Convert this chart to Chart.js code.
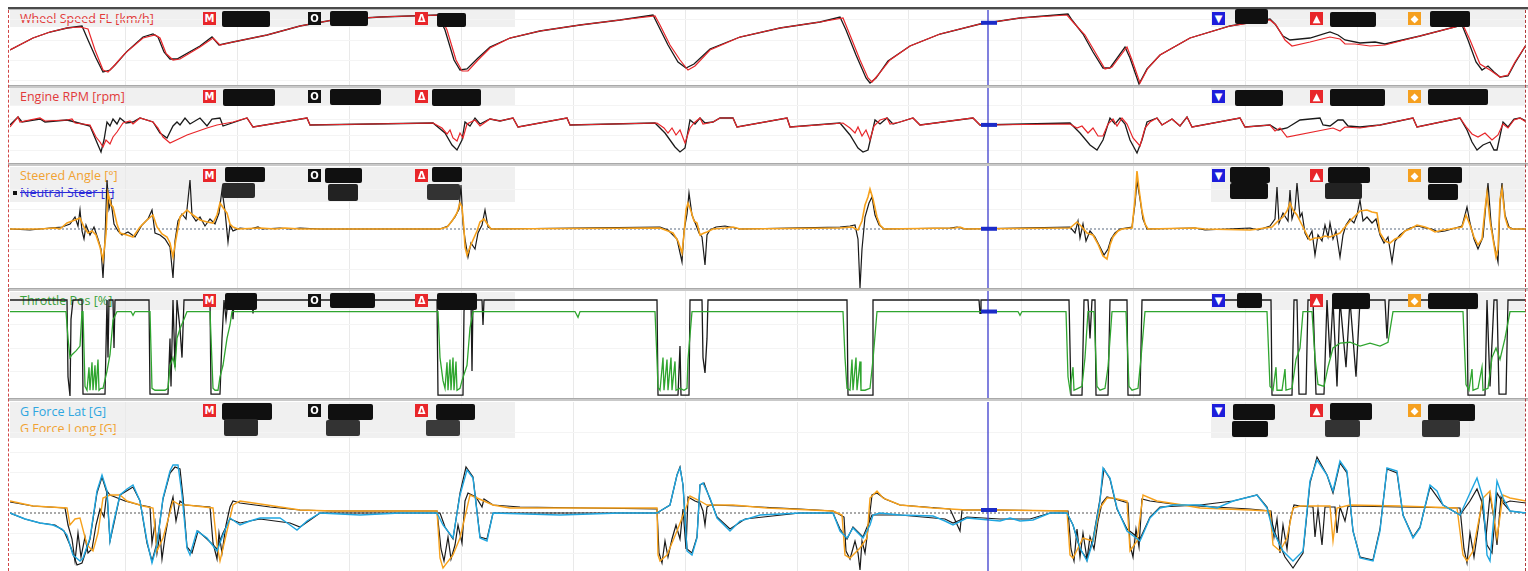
<!DOCTYPE html>
<html>
<head>
<meta charset="utf-8">
<script src="https://cdn.jsdelivr.net/npm/chart.js@4.4.1/dist/chart.umd.min.js"></script>
<style>
body{margin:0;background:#fff;width:1528px;height:571px;overflow:hidden;position:relative;font-family:'Open Sans',sans-serif;}
canvas{position:absolute;left:10px;}
.strip{position:absolute;background:#f0f0f0;}
.lbl{position:absolute;font-size:12.5px;line-height:17px;white-space:nowrap;}
.ico{position:absolute;width:13px;height:13px;color:#fff;font-size:10px;line-height:13px;text-align:center;font-weight:bold;font-family:'DejaVu Sans',sans-serif;}
.red{background:#e8262a}.blk{background:#111}.blu{background:#1d1ddb}.org{background:#f5a020}
.redact{position:absolute;background:#101010;}
.sep{position:absolute;left:8px;width:1520px;height:3px;background:#c9c9c9;border-top:1px solid #a9a9a9;box-sizing:border-box;}
</style>
</head>
<body>
<script>
/* =========================
   DATA  [distance, value]
========================= */
const gridDist = [125,237,349,461,573,685,797,909,1021,1133,1245,1357,1469];
const cursorDist = 988;

// Wheel Speed FL [km/h]
const wheelSpeedCur = [[10,150],[33,186],[50,204],[67,216],[80,219],[88,213],[95,150],[103,90],[108,84],[113,99],[125,140],[143,186],[155,195],[160,186],[166,140],[173,120],[180,123],[200,159],[213,186],[220,165],[233,174],[267,195],[300,222],[333,240],[380,249],[440,255],[447,210],[456,120],[462,87],[468,87],[478,120],[490,156],[510,186],[540,207],[580,225],[620,240],[655,252],[660,225],[670,165],[680,120],[688,90],[695,102],[710,150],[740,189],[780,216],[820,234],[843,246],[850,195],[860,120],[868,66],[872,54],[878,75],[890,120],[910,162],[940,198],[980,228],[1020,246],[1067,255],[1073,234],[1085,195],[1095,144],[1105,93],[1112,99],[1127,159],[1132,120],[1140,51],[1148,96],[1160,135],[1190,186],[1230,222],[1270,240],[1276,225],[1285,180],[1292,162],[1310,174],[1330,189],[1340,183],[1345,168],[1355,168],[1370,162],[1385,165],[1420,192],[1463,225],[1470,180],[1480,108],[1490,90],[1500,69],[1508,75],[1515,114],[1526,165]];
const wheelSpeedRef = [[10,150],[33,186],[50,204],[67,216],[82,222],[88,180],[96,126],[103,84],[110,90],[115,105],[127,146],[143,189],[153,198],[158,189],[164,144],[170,123],[177,123],[200,162],[212,189],[219,165],[233,174],[267,195],[300,222],[333,240],[380,249],[438,255],[445,210],[454,120],[460,90],[467,93],[478,126],[490,159],[510,186],[540,207],[580,225],[620,240],[653,255],[658,225],[668,165],[678,114],[686,96],[694,108],[710,153],[740,189],[780,216],[820,234],[840,249],[846,210],[856,135],[866,66],[870,51],[876,66],[888,117],[910,162],[940,198],[980,228],[1020,246],[1068,258],[1072,240],[1083,198],[1093,144],[1103,96],[1110,96],[1125,159],[1130,126],[1139,48],[1147,93],[1160,135],[1190,186],[1230,222],[1270,243],[1275,228],[1283,192],[1290,180],[1310,186],[1330,204],[1338,195],[1345,180],[1360,171],[1375,174],[1385,168],[1420,192],[1462,225],[1468,180],[1476,114],[1482,90],[1488,102],[1494,84],[1500,69],[1508,72],[1515,111],[1526,165]];

// Engine RPM [rpm]
const rpmCur = [[10,7300],[18,8300],[20,7800],[40,8200],[45,7900],[67,8000],[72,8100],[75,7700],[90,7500],[96,6300],[100,5800],[103,5300],[106,6000],[110,5600],[113,6300],[117,6800],[123,7700],[130,7900],[133,7600],[140,8200],[153,7800],[158,7200],[163,6300],[170,5700],[187,6500],[207,7200],[217,7500],[233,7800],[247,8200],[253,7300],[307,8200],[310,7500],[433,7700],[442,7200],[447,6600],[450,7000],[453,6200],[457,5900],[460,6700],[463,6200],[467,7600],[475,8000],[480,7400],[490,8100],[500,7900],[513,8200],[518,7300],[567,8200],[570,7500],[657,7700],[664,7200],[668,6700],[672,7200],[676,6500],[680,7000],[685,5700],[690,7200],[694,7700],[700,8200],[703,7600],[713,7800],[720,8200],[733,8200],[737,7300],[787,8200],[790,7300],[843,7700],[850,7200],[855,6700],[858,7300],[862,6400],[866,7000],[870,6000],[874,7400],[880,8000],[887,8200],[890,7600],[900,7800],[913,8200],[920,7500],[973,8200],[980,7500],[1070,7600],[1077,7200],[1082,7400],[1088,6700],[1093,7200],[1098,6400],[1103,6400],[1108,7600],[1113,8100],[1117,7400],[1122,8200],[1127,7600],[1133,6200],[1140,5400],[1145,7200],[1150,7800],[1157,8200],[1162,7500],[1172,8100],[1180,7400],[1187,8300],[1192,7300],[1240,8200],[1245,7300],[1270,7500],[1275,6900],[1280,7200],[1287,6300],[1333,7200],[1340,6900],[1345,7300],[1360,7200],[1380,7500],[1413,8200],[1417,7300],[1460,8200],[1467,7200],[1472,6600],[1478,6300],[1485,6700],[1492,6000],[1498,6500],[1503,7600],[1508,7200],[1514,8000],[1520,8200],[1526,7800]];
const rpmRef = [[10,7500],[18,8300],[22,7800],[40,8100],[45,7800],[67,8000],[75,7800],[90,7400],[98,5500],[101,4800],[104,6000],[107,7800],[110,7400],[113,8100],[117,7600],[120,8200],[126,7700],[133,7800],[140,8200],[153,7800],[160,6700],[167,6200],[173,7400],[177,7800],[180,7500],[185,8200],[190,7600],[200,8200],[207,7400],[212,8100],[220,8200],[223,7400],[247,8200],[253,7300],[307,8200],[310,7500],[433,7700],[445,6700],[452,5500],[457,5000],[462,6000],[465,7800],[470,7400],[475,8200],[480,7600],[490,8100],[500,7900],[513,8200],[518,7300],[567,8200],[570,7500],[655,7700],[665,6700],[675,5300],[680,4800],[685,5200],[690,8000],[695,7600],[700,8200],[705,7700],[713,7800],[720,8200],[733,8200],[737,7300],[787,8200],[790,7300],[840,7700],[850,6500],[858,5200],[863,4800],[868,5000],[875,8000],[880,7600],[887,8200],[893,7600],[900,7800],[913,8200],[920,7500],[973,8200],[980,7500],[1070,7700],[1080,6700],[1090,5500],[1097,5000],[1103,6000],[1110,8200],[1115,7600],[1120,8200],[1125,7600],[1130,6000],[1137,4700],[1142,6000],[1147,7800],[1157,8200],[1162,7500],[1172,8100],[1180,7400],[1187,8300],[1192,7300],[1240,8200],[1245,7300],[1270,7500],[1278,7000],[1287,7200],[1300,8000],[1320,8200],[1323,7500],[1330,7400],[1338,8000],[1343,8000],[1348,7400],[1360,7300],[1380,7500],[1413,8200],[1417,7300],[1460,8200],[1467,7000],[1472,5800],[1477,5000],[1483,5500],[1490,5800],[1494,5000],[1497,5000],[1503,7800],[1508,7300],[1514,8100],[1520,8200],[1526,7900]];

// Steered Angle [deg]
const steerCur = [[10,0],[40,0],[55,1],[60,0],[67,6],[75,9],[80,11],[84,2],[88,-4],[92,-2],[96,-6],[100,-18],[103,-31],[106,-5],[108,36],[111,24],[113,22],[117,5],[120,-4],[127,-6],[133,-8],[140,2],[147,9],[153,14],[157,2],[162,-5],[167,-8],[170,-14],[173,-28],[176,-10],[180,12],[187,19],[193,14],[200,9],[207,7],[213,6],[217,14],[220,26],[224,20],[227,16],[230,5],[233,2],[238,0],[260,1],[275,0],[285,1],[300,0],[440,0],[447,2],[452,8],[457,16],[460,26],[462,22],[464,0],[465,-18],[467,-26],[470,-18],[473,-11],[477,-2],[480,7],[484,10],[488,4],[491,0],[660,1],[668,-2],[673,-4],[678,-12],[682,-24],[684,-5],[686,19],[688,26],[691,18],[694,8],[697,6],[700,-6],[704,-4],[707,-3],[713,0],[725,1],[733,2],[740,0],[840,1],[852,2],[858,-1],[862,8],[865,24],[868,32],[870,40],[873,30],[877,12],[880,4],[884,0],[955,1],[960,2],[965,0],[1070,1],[1077,7],[1082,2],[1087,-4],[1093,-6],[1098,-15],[1103,-27],[1107,-30],[1110,-16],[1113,-8],[1118,-2],[1122,0],[1132,1],[1135,30],[1137,58],[1139,40],[1142,18],[1145,5],[1148,0],[1195,1],[1205,0],[1250,-1],[1258,0],[1272,2],[1278,8],[1283,12],[1287,18],[1290,26],[1293,19],[1297,14],[1300,8],[1303,2],[1307,-6],[1310,-11],[1315,-9],[1320,-9],[1325,-7],[1330,-8],[1335,-6],[1340,-4],[1345,2],[1350,8],[1355,13],[1360,18],[1367,19],[1372,17],[1377,16],[1380,-4],[1385,-12],[1390,-14],[1395,-10],[1400,-8],[1405,-2],[1410,0],[1417,4],[1425,2],[1430,0],[1435,-3],[1443,-1],[1450,0],[1462,2],[1466,14],[1470,4],[1474,-8],[1478,-16],[1482,-10],[1485,20],[1487,36],[1490,8],[1493,-10],[1496,-28],[1498,-20],[1500,30],[1502,40],[1505,12],[1508,2],[1512,0],[1526,0]];
const steerRef = [[10,0],[30,-1],[50,1],[62,2],[70,5],[75,12],[78,3],[80,19],[82,-2],[84,-10],[86,4],[90,-6],[94,2],[98,-10],[101,-20],[103,-49],[105,-10],[107,49],[109,20],[111,28],[114,5],[118,-2],[122,-6],[128,-3],[135,-8],[142,4],[148,10],[152,19],[155,-4],[160,-6],[165,-10],[170,-18],[173,-49],[175,-12],[178,8],[182,15],[186,10],[190,49],[192,14],[196,8],[200,12],[205,3],[210,10],[215,5],[219,16],[222,39],[225,18],[228,-13],[230,4],[233,-2],[240,1],[250,0],[258,2],[262,0],[280,1],[290,0],[300,1],[320,0],[440,0],[448,3],[455,12],[459,20],[461,44],[463,5],[465,-10],[468,-28],[471,-14],[475,-20],[478,-4],[482,4],[485,19],[488,2],[492,0],[660,2],[668,-1],[673,-6],[677,-10],[682,-33],[684,-2],[687,15],[689,36],[692,14],[696,4],[699,-4],[702,-8],[705,-36],[707,-6],[710,-1],[716,2],[725,3],[735,1],[740,0],[840,2],[850,3],[855,4],[858,-10],[860,-59],[862,-20],[865,12],[869,26],[872,32],[875,14],[879,4],[884,0],[950,1],[957,2],[965,0],[1070,2],[1075,-4],[1078,8],[1080,-9],[1083,5],[1086,-12],[1090,-2],[1095,-8],[1100,-18],[1104,-26],[1108,-20],[1111,-10],[1115,-4],[1120,0],[1132,2],[1135,25],[1137,48],[1140,30],[1143,10],[1147,0],[1195,1],[1205,-1],[1250,1],[1258,-1],[1270,3],[1275,10],[1277,42],[1279,6],[1283,16],[1288,8],[1290,39],[1292,10],[1295,20],[1297,46],[1300,12],[1302,16],[1305,-4],[1308,-10],[1312,-2],[1315,-26],[1318,-6],[1322,-12],[1325,4],[1328,-8],[1330,6],[1333,-10],[1336,-2],[1340,-28],[1343,-6],[1346,4],[1350,10],[1354,6],[1357,14],[1360,29],[1363,8],[1367,12],[1372,6],[1376,10],[1380,-6],[1384,-14],[1388,-8],[1392,-33],[1395,-12],[1400,-6],[1405,-2],[1410,1],[1418,3],[1425,1],[1432,0],[1438,-3],[1445,-2],[1452,0],[1462,3],[1465,14],[1467,22],[1470,6],[1474,-10],[1478,-20],[1483,-8],[1486,26],[1488,46],[1491,6],[1494,-14],[1498,-33],[1500,25],[1502,46],[1505,14],[1509,2],[1513,0],[1526,0]];
const steerZero = [[10,0],[1526,0]];

// Throttle Pos [%]
const throttleCur = [[10,88],[66,88],[68,60],[70,40],[72,43],[76,47],[80,52],[82,88],[83,88],[85,10],[87,6],[89,30],[90,6],[92,35],[93,6],[95,32],[96,6],[98,38],[99,6],[101,8],[103,8],[107,26],[110,43],[113,79],[117,88],[131,88],[133,84],[135,88],[150,88],[152,8],[155,6],[160,6],[165,6],[168,8],[170,32],[173,40],[175,30],[177,60],[180,70],[184,80],[187,88],[210,88],[213,8],[215,6],[218,6],[220,20],[223,32],[227,60],[230,74],[232,88],[438,88],[440,40],[443,16],[445,8],[447,35],[448,6],[450,38],[451,6],[453,40],[454,6],[456,36],[457,6],[460,8],[462,16],[467,32],[470,71],[473,88],[575,88],[578,82],[580,88],[655,88],[657,38],[658,9],[660,6],[663,40],[664,6],[667,38],[668,6],[671,40],[672,6],[675,36],[676,6],[680,8],[684,6],[687,8],[688,38],[692,88],[843,88],[845,40],[847,8],[850,6],[852,38],[853,6],[856,40],[857,6],[860,36],[861,6],[865,6],[870,8],[873,38],[877,88],[1018,88],[1020,84],[1022,88],[1066,88],[1068,20],[1070,6],[1073,30],[1074,6],[1078,8],[1082,10],[1085,40],[1088,88],[1094,88],[1097,10],[1100,6],[1105,8],[1108,30],[1112,88],[1126,88],[1129,10],[1132,6],[1138,8],[1141,40],[1145,88],[1267,88],[1270,10],[1273,6],[1276,30],[1277,6],[1282,6],[1285,28],[1286,6],[1292,8],[1296,38],[1300,50],[1303,88],[1312,88],[1315,40],[1318,12],[1324,10],[1328,30],[1333,50],[1340,55],[1350,56],[1360,52],[1370,55],[1380,52],[1388,56],[1393,88],[1463,88],[1466,12],[1469,6],[1472,28],[1473,6],[1478,8],[1482,30],[1483,6],[1488,8],[1492,40],[1496,50],[1500,38],[1505,60],[1510,88],[1526,88]];
const throttleRef = [[10,100],[67,100],[68,20],[70,0],[71,80],[73,100],[82,100],[83,2],[105,2],[107,100],[108,40],[109,100],[113,100],[114,50],[115,100],[149,100],[150,2],[168,2],[170,60],[171,10],[173,100],[175,30],[177,100],[180,70],[182,40],[184,100],[210,100],[211,2],[220,2],[222,60],[224,100],[226,80],[228,100],[232,100],[233,80],[234,100],[252,100],[253,86],[254,100],[437,100],[438,1],[463,1],[464,88],[465,100],[471,100],[472,26],[473,100],[482,100],[483,74],[484,100],[657,100],[658,1],[678,1],[680,52],[681,1],[689,1],[690,100],[702,100],[703,40],[705,24],[707,60],[708,100],[847,100],[848,1],[872,1],[873,100],[979,100],[980,86],[981,100],[1069,100],[1071,1],[1082,1],[1084,100],[1088,100],[1090,60],[1092,100],[1095,100],[1096,1],[1108,1],[1110,100],[1127,100],[1128,1],[1140,1],[1142,100],[1271,100],[1272,1],[1292,1],[1294,100],[1297,100],[1299,2],[1306,2],[1308,100],[1313,100],[1316,2],[1324,2],[1327,100],[1330,40],[1333,100],[1337,10],[1340,100],[1346,30],[1350,100],[1356,20],[1360,100],[1385,100],[1387,60],[1389,100],[1467,100],[1468,1],[1485,1],[1487,100],[1490,10],[1494,100],[1497,100],[1499,2],[1506,2],[1508,100],[1526,100]];

// G Force Lat / Long [G]
const gLatCur = [[10,0],[25,-0.3],[40,-0.5],[53,-0.6],[62,-0.8],[67,-1.1],[73,-2.1],[80,-2.4],[83,-2.25],[90,-1.25],[97,1.1],[102,1.9],[107,1.1],[110,-1.4],[113,-0.6],[120,0.9],[127,1.2],[133,1.4],[140,0.6],[147,-1.4],[152,-2.5],[157,-1.6],[163,0.75],[170,2.1],[173,2.4],[178,2.4],[182,0.9],[187,-1.75],[190,-2.1],[197,-0.9],[207,-1.25],[217,-1.9],[223,-1.1],[230,-0.25],[240,-0.6],[250,-0.4],[260,-0.25],[280,-0.25],[290,-0.6],[297,-0.85],[307,-0.4],[320,0],[360,-0.1],[400,0],[437,0],[443,-0.6],[453,-1.25],[460,0.9],[467,2.15],[473,1.75],[480,-1.25],[487,-1.4],[493,0],[560,-0.1],[620,0],[657,0],[660,0.1],[670,0.4],[677,1.9],[680,2.25],[683,1.4],[687,-1.9],[692,-2.1],[697,-1.25],[700,1.4],[703,1.5],[710,0.75],[717,-0.25],[730,-0.9],[740,-0.4],[760,-0.1],[800,0],[833,0],[840,-0.9],[847,-1.25],[853,-0.75],[863,-1.25],[870,-0.6],[873,-0.1],[880,0],[900,-0.1],[933,-0.15],[945,-0.4],[953,-0.6],[967,-0.25],[1000,-0.4],[1010,-0.25],[1020,-0.4],[1033,-0.35],[1050,0],[1067,0],[1073,-0.6],[1080,-1.75],[1087,-2.4],[1093,-1.4],[1100,0.6],[1103,2.25],[1110,1.75],[1117,0.25],[1127,-0.9],[1140,-1.4],[1150,-0.25],[1160,0.25],[1173,0.4],[1200,0.4],[1217,0.25],[1233,0.6],[1257,0.9],[1267,0.25],[1273,-0.9],[1283,-1.9],[1293,-2.4],[1303,-1.9],[1310,1.6],[1317,2.65],[1327,1.9],[1333,1.1],[1340,2.6],[1347,2.1],[1353,-0.9],[1360,-2.25],[1373,-2.4],[1380,-0.9],[1387,2.25],[1397,2.1],[1403,-0.1],[1413,-1.25],[1420,-0.75],[1430,1.4],[1437,1.1],[1443,0.4],[1460,-0.1],[1470,1.0],[1477,1.75],[1483,0.75],[1487,-2.1],[1490,-2.4],[1497,1.6],[1503,0.75],[1510,0.1],[1526,0]];
const gLatRef = [[10,0],[25,-0.3],[40,-0.5],[55,-0.6],[64,-0.9],[70,-1.6],[77,-2.6],[82,-2.5],[90,-1.3],[97,1.0],[102,1.8],[107,1.0],[110,-1.4],[114,-0.5],[120,0.9],[133,1.3],[140,0.6],[147,-1.5],[152,-2.4],[157,-1.5],[163,0.7],[170,2.0],[175,2.3],[180,2.2],[183,0.8],[187,-1.7],[192,-2.0],[198,-0.9],[207,-1.3],[217,-1.8],[223,-1.0],[230,-0.3],[240,-0.5],[260,-0.3],[290,-0.5],[300,-0.7],[320,0],[440,0],[445,-0.7],[453,-1.3],[460,1.0],[466,2.3],[473,1.8],[480,-1.2],[487,-1.3],[493,0],[657,0],[670,0.4],[677,1.9],[680,2.3],[683,1.4],[687,-1.8],[692,-2.0],[697,-1.2],[700,1.4],[704,1.5],[710,0.7],[717,-0.2],[730,-0.8],[745,-0.3],[800,0],[833,0],[840,-0.8],[847,-1.3],[853,-0.7],[863,-1.2],[872,-0.1],[900,-0.1],[945,-0.3],[953,-0.5],[967,-0.2],[1000,-0.3],[1030,-0.3],[1050,0],[1067,0],[1073,-0.6],[1080,-1.8],[1087,-2.3],[1093,-1.3],[1100,0.7],[1104,2.2],[1110,1.7],[1117,0.2],[1127,-0.8],[1140,-1.3],[1150,-0.2],[1160,0.3],[1200,0.4],[1233,0.6],[1257,0.9],[1267,0.3],[1275,-1.0],[1285,-2.2],[1293,-2.75],[1303,-2.0],[1310,1.5],[1317,2.8],[1327,1.9],[1333,1.0],[1340,2.5],[1347,2.0],[1353,-0.9],[1360,-2.2],[1373,-2.35],[1380,-0.8],[1387,2.2],[1397,2.0],[1403,-0.1],[1413,-1.2],[1420,-0.7],[1430,1.3],[1443,0.4],[1460,-0.1],[1470,0.6],[1477,1.2],[1483,0.4],[1487,-1.6],[1492,-2.0],[1497,1.0],[1503,0.5],[1510,0.1],[1526,0]];
const gLongCur = [[10,0.6],[33,0.35],[67,0.25],[70,-0.6],[75,-0.3],[80,-0.25],[87,-1.6],[93,-1.9],[98,-1.0],[103,0.75],[110,0.9],[120,0.9],[127,0.6],[143,0.35],[153,0.25],[157,-1.9],[163,-1.25],[173,0.6],[180,0.4],[187,0.4],[213,0.25],[217,-1.6],[220,-2.4],[227,-0.9],[233,0.4],[240,0.6],[267,0.4],[300,0.15],[333,0.1],[437,0.1],[440,-2.25],[443,-2.75],[453,-2.1],[460,-1.25],[467,0.25],[470,0.9],[477,0.75],[493,0.4],[510,0.25],[560,0.25],[657,0.25],[658,-2.1],[660,-2.4],[667,-2.1],[677,-0.9],[687,0.4],[690,0.85],[700,0.6],[707,0.4],[733,0.4],[767,0.25],[833,0.1],[842,-0.1],[845,-2.1],[850,-2.25],[860,-1.75],[867,-1.25],[870,0.75],[877,1.1],[883,0.75],[900,0.4],[933,0.25],[967,0.15],[1000,0.15],[1067,0.1],[1070,-2.1],[1073,-2.25],[1083,-1.25],[1093,-1.4],[1100,0.25],[1107,0.75],[1113,0.75],[1127,0.6],[1130,-1.9],[1137,-1.4],[1143,0.9],[1157,0.6],[1183,0.4],[1200,0.25],[1250,0.15],[1270,0.1],[1273,-1.6],[1280,-1.9],[1287,-1.25],[1293,0.25],[1300,0.35],[1330,0.35],[1333,-1.4],[1337,0.25],[1350,0.4],[1400,0.35],[1457,0.25],[1463,-2.1],[1467,-2.4],[1473,-1.9],[1483,0.75],[1490,1.1],[1497,-1.25],[1503,0.9],[1510,0.75],[1526,0.6]];
const gLongRef = [[10,0.55],[33,0.35],[65,0.25],[68,-0.6],[72,-1.3],[75,-2.4],[78,-1.0],[81,-2.2],[85,-1.2],[88,-2.0],[92,-1.8],[96,-0.6],[100,0.2],[104,-0.2],[107,1.1],[110,0.9],[115,0.8],[125,0.6],[140,0.4],[150,0.3],[152,-1.5],[155,-0.5],[157,-2.0],[160,-1.0],[162,-2.3],[165,-1.2],[170,0.2],[173,0.8],[176,-0.4],[180,0.6],[185,0.4],[210,0.3],[213,-1.5],[217,-2.3],[219,-1.0],[222,-2.0],[226,-0.6],[230,0.3],[233,0.6],[240,0.5],[270,0.3],[300,0.15],[333,0.1],[437,0.1],[441,-1.8],[444,-2.4],[448,-1.2],[451,-2.3],[455,-1.6],[458,-0.6],[462,-1.5],[465,0.6],[468,1.0],[476,0.8],[482,0.3],[484,0.7],[493,0.4],[520,0.3],[657,0.2],[659,-2.0],[662,-2.5],[665,-1.4],[668,-2.2],[672,-1.3],[676,-0.6],[680,-1.3],[683,0.2],[686,-1.8],[688,0.8],[695,0.6],[700,0.5],[703,0.1],[705,-0.6],[707,0.3],[710,0.4],[740,0.35],[800,0.2],[833,0.1],[844,-0.2],[846,-1.9],[850,-2.3],[855,-1.4],[858,-2.0],[860,-2.85],[862,-1.4],[865,-2.0],[868,-0.8],[872,0.9],[877,1.0],[885,0.7],[900,0.4],[950,0.2],[960,-0.9],[962,0.15],[1000,0.15],[1068,0.1],[1071,-1.8],[1074,-2.4],[1077,-0.8],[1080,-2.2],[1083,-1.0],[1087,-2.3],[1090,-1.2],[1094,-1.8],[1098,-0.4],[1102,0.5],[1107,0.8],[1115,0.7],[1128,0.5],[1130,-1.6],[1133,-2.2],[1136,-0.8],[1139,-1.7],[1142,0.7],[1150,0.6],[1180,0.4],[1250,0.2],[1271,0.1],[1274,-1.2],[1277,-0.3],[1280,-2.0],[1283,-0.6],[1287,-1.8],[1290,-0.4],[1294,0.4],[1300,0.35],[1313,0.3],[1315,-1.2],[1318,0.2],[1322,-1.6],[1325,0.3],[1335,0.3],[1337,-1.0],[1340,0.3],[1345,-0.4],[1348,0.35],[1400,0.3],[1460,0.25],[1464,-1.8],[1467,-2.5],[1470,-1.0],[1474,-2.2],[1478,-0.8],[1482,0.6],[1486,-1.2],[1490,0.9],[1494,-0.3],[1497,-1.6],[1501,0.8],[1505,0.5],[1510,0.6],[1526,0.5]];
const gZero = [[10,0],[1526,0]];

/* =========================
   COLOURS
========================= */
const RED = '#e8262a', BLACK = '#1a1a1a', ORANGE = '#f6a11c', GREEN = '#2fa52f', BLUE = '#1fa6e0';

/* =========================
   PANELS  (first series is drawn on top)
========================= */
const panels = [
  { top:10, h:75, min:45, max:270, yGrid:[60,120,180,240], strip:[10,17],
    labels:[{t:'Wheel Speed FL [km/h]', c:'#e23a3a', y:10}],
    cursorSeries: wheelSpeedCur,
    series:[ {d:wheelSpeedCur,c:RED,w:1.2}, {d:wheelSpeedRef,c:BLACK,w:1.3} ] },
  { top:88, h:75, min:3700, max:11200, yGrid:[5000,6500,8000,9500], strip:[88,18],
    labels:[{t:'Engine RPM [rpm]', c:'#e23a3a', y:88}],
    cursorSeries: rpmCur,
    series:[ {d:rpmCur,c:RED,w:1.2}, {d:rpmRef,c:BLACK,w:1.3} ] },
  { top:166, h:123, min:-60, max:63, yGrid:[-40,-20,20,40], strip:[167,35],
    labels:[{t:'Steered Angle [°]', c:'#f0a232', y:167},{t:'Neutral Steer [°]', c:'#2a2ad8', y:184, strike:true}],
    cursorSeries: steerCur,
    series:[ {d:steerCur,c:ORANGE,w:1.6}, {d:steerRef,c:BLACK,w:1.2}, {d:steerZero,c:'#5a6a80',w:1,dash:[2,2]} ] },
  { top:291, h:107, min:-2.1, max:109.4, yGrid:[25,50,75], strip:[292,18],
    labels:[{t:'Throttle Pos [%]', c:'#3aa23a', y:292}],
    cursorSeries: throttleCur,
    series:[ {d:throttleCur,c:GREEN,w:1.3}, {d:throttleRef,c:BLACK,w:1.3} ] },
  { top:402, h:169, min:-2.9, max:5.55, yGrid:[-2,-1,1,2,3,4], strip:[402,36],
    labels:[{t:'G Force Lat [G]', c:'#2ea6e0', y:403},{t:'G Force Long [G]', c:'#f0a232', y:420}],
    cursorSeries: gLongCur,
    series:[ {d:gLatCur,c:BLUE,w:1.4}, {d:gLongCur,c:ORANGE,w:1.4}, {d:gLongRef,c:BLACK,w:1.2}, {d:gLatRef,c:BLACK,w:1.2}, {d:gZero,c:'#555',w:1,dash:[2,2]} ] }
];

// redaction blocks per panel: [x, y, w, h, colour?]
const redactions = [
  [[222,11,48,16],[330,11,38,15],[437,13,29,14],[1235,9,33,15],[1330,12,46,15],[1430,11,40,16]],
  [[223,89,52,17],[330,89,51,16],[432,89,49,17],[1235,90,48,16],[1330,89,55,17],[1428,89,60,16]],
  [[225,167,40,15],[325,168,37,15],[432,167,30,15],[1230,167,40,16],[1328,167,42,16],[1428,167,34,16],
   [222,183,33,15,'#2a2a2a'],[328,184,30,17,'#222'],[427,184,33,16,'#333'],[1230,183,38,16],[1325,183,37,16,'#222'],[1428,184,30,16]],
  [[225,293,32,17],[330,293,45,15],[437,293,40,17],[1237,293,25,15],[1332,293,38,16],[1428,293,50,16]],
  [[222,403,50,17],[328,404,45,16],[436,404,39,16],[1233,404,42,16],[1330,403,42,17],[1428,404,47,17],
   [224,419,34,17,'#2a2a2a'],[326,420,34,16,'#333'],[426,420,34,16,'#3a3a3a'],[1232,421,36,16],[1325,420,35,17,'#333'],[1422,420,38,17,'#333']]
];
const markerIcons = [
  {x:203, cls:'red', g:'M'}, {x:308, cls:'blk', g:'O'}, {x:415, cls:'red', g:'Δ'},
  {x:1212, cls:'blu', g:'▼'}, {x:1310, cls:'red', g:'▲'}, {x:1408, cls:'org', g:'◆'}
];

/* =========================
   HELPERS
========================= */
function el(tag, cls, css, text){
  const e = document.createElement(tag);
  if(cls) e.className = cls;
  Object.assign(e.style, css);
  if(text !== undefined) e.textContent = text;
  document.body.appendChild(e);
  return e;
}

function valueAt(arr, x){
  for(let i = 1; i < arr.length; i++){
    if(arr[i][0] >= x){
      const a = arr[i-1], b = arr[i];
      return a[1] + (b[1]-a[1]) * (x-a[0]) / (b[0]-a[0]);
    }
  }
  return arr[arr.length-1][1];
}

/* =========================
   BUILD
========================= */
// frame
el('div', null, {position:'absolute', left:'8px', top:'7px', width:'1520px', height:'2px', background:'#4a4a4a'});
el('div', null, {position:'absolute', left:'8px', top:'9px', width:'1520px', height:'1px', background:'#b8b8b8'});

panels.forEach((p, idx) => {
  // header strips (left + right)
  el('div', 'strip', {left:'10px', top:p.strip[0]+'px', width:'505px', height:p.strip[1]+'px'});
  el('div', 'strip', {left:'1211px', top:p.strip[0]+'px', width:'314px', height:p.strip[1]+'px'});

  p.labels.forEach(l => {
    el('div', 'lbl', {left:'20px', top:l.y+'px', color:l.c, textDecoration: l.strike ? 'line-through' : 'none'}, l.t);
    if(l.strike){
      el('div', null, {position:'absolute', left:'13px', top:(l.y+7)+'px', width:'4px', height:'4px', background:'#111'});
    }
  });

  const cv = document.createElement('canvas');
  cv.width = 1516; cv.height = p.h;
  cv.style.top = p.top + 'px';
  document.body.appendChild(cv);

  const cursorPlugin = {
    id: 'cursor' + idx,
    afterDatasetsDraw(chart){
      const ctx = chart.ctx;
      const px = chart.scales.x.getPixelForValue(cursorDist);
      const py = chart.scales.y.getPixelForValue(valueAt(p.cursorSeries, cursorDist));
      ctx.save();
      ctx.strokeStyle = '#3d3dcc';
      ctx.lineWidth = 1.3;
      ctx.beginPath(); ctx.moveTo(px, 0); ctx.lineTo(px, chart.height); ctx.stroke();
      ctx.fillStyle = '#1c2cc8';
      ctx.fillRect(px - 7, py - 2, 16, 4);
      ctx.restore();
    }
  };

  new Chart(cv, {
    type: 'line',
    data: {
      datasets: p.series.map(s => ({
        data: s.d.map(v => ({x:v[0], y:v[1]})),
        borderColor: s.c,
        borderWidth: s.w,
        borderDash: s.dash || [],
        pointRadius: 0,
        tension: 0,
        fill: false
      }))
    },
    options: {
      responsive: false,
      animation: false,
      events: [],
      layout: {padding: 0},
      plugins: {legend:{display:false}, tooltip:{enabled:false}},
      scales: {
        x: {
          type: 'linear', min: 10, max: 1526,
          ticks: {display:false}, border: {display:false},
          grid: {color:'#e9e9e9', drawTicks:false},
          afterBuildTicks: s => { s.ticks = gridDist.map(v => ({value:v})); }
        },
        y: {
          min: p.min, max: p.max,
          ticks: {display:false}, border: {display:false},
          grid: {color:'#f4f4f4', drawTicks:false},
          afterBuildTicks: s => { s.ticks = p.yGrid.map(v => ({value:v})); }
        }
      }
    },
    plugins: [cursorPlugin]
  });

  // marker icons + redactions (on top)
  markerIcons.forEach(m => {
    el('div', 'ico ' + m.cls, {left:m.x+'px', top:(p.strip[0]+2)+'px'}, m.g);
  });
  redactions[idx].forEach(r => {
    el('div', 'redact', {left:r[0]+'px', top:r[1]+'px', width:r[2]+'px', height:r[3]+'px', background:r[4] || '#101010', borderRadius:'2px'});
  });
});

// panel separators
[85, 163, 288, 398].forEach(y => el('div', 'sep', {top:y+'px'}));

// left / right dashed edges
el('div', null, {position:'absolute', left:'8px', top:'10px', width:'0', height:'561px', borderLeft:'1px dashed #d04545'});
el('div', null, {position:'absolute', left:'1525px', top:'10px', width:'0', height:'561px', borderLeft:'1px dashed #b03a3a'});
</script>
</body>
</html>
